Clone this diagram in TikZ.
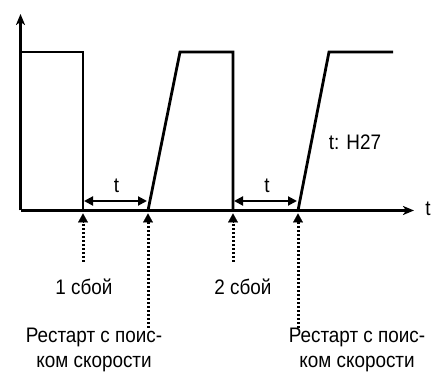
\documentclass[tikz,border=0pt]{standalone}
\usepackage{fontspec}
\setmainfont[FakeStretch=0.9]{Liberation Sans}
\usetikzlibrary{arrows.meta,calc}
\begin{document}
\begin{tikzpicture}[x=1pt,y=1pt,
  sig/.style={line width=2.8pt,line join=miter},
  axis/.style={line width=2.6pt,-{Stealth[length=11pt,width=9pt,inset=3pt]}},
  gap/.style={line width=2pt,{Triangle[length=9pt,width=9pt]}-{Triangle[length=9pt,width=9pt]}},
  dotmark/.style={line width=3pt,dash pattern=on 2.2pt off 1.8pt},
  upar/.style={-{Triangle[length=9pt,width=10pt]}},
  lbl/.style={font=\fontsize{21}{25}\selectfont,inner sep=0pt}]
\useasboundingbox (0,0) rectangle (437,387);
% y = 387 - ypx
\coordinate (O) at (20.5,176.5);
\coordinate (Ytop) at (20.5,373);
\coordinate (Xend) at (414,176.5);
\draw[axis] (O) -- (Ytop);
\draw[axis] (O) -- (Xend);
% signal
\coordinate (s0) at (20.5,335);
\coordinate (f1t) at (83,335);
\coordinate (f1b) at (83,176.5);
\coordinate (r1b) at (148,176.5);
\coordinate (r1t) at (180,335);
\coordinate (f2t) at (233,335);
\coordinate (f2b) at (233,176.5);
\coordinate (r2b) at (298,176.5);
\coordinate (r2t) at (329,335);
\coordinate (e) at (393,335);
\draw[sig] (s0) -- (f1t) -- (f1b);
\draw[sig] (r1b) -- (r1t) -- (f2t) -- (f2b);
\draw[sig] (r2b) -- (r2t) -- (e);
% t gaps
\draw[gap] (84,186) -- (147,186);
\draw[gap] (234,186) -- (297,186);
\node[lbl] (t1) at (116.5,201) {t};
\node[lbl] (t2) at (267,201) {t};
\node[lbl] (tx) at (428,178) {t};
\node[lbl] (h27) at (355,245) {t: H27};
% markers
\coordinate (m1) at (83,125);
\coordinate (m2) at (148,59);
\coordinate (m3) at (233,125);
\coordinate (m4) at (298,59);
\foreach \a/\b in {m1/f1b,m2/r1b,m3/f2b,m4/r2b}{
  \draw[dotmark] (\a) -- ($(\b)+(0,-12)$);
  \draw[upar,line width=0.1pt] ($(\b)+(0,-12)$) -- ($(\b)+(0,-3)$);
}
\node[lbl] (c1) at (84,100) {1 сбой};
\node[lbl] (c2) at (243,100) {2 сбой};
\node[lbl,align=center] (r1) at (94,37) {Рестарт с поис-\\ком скорости};
\node[lbl,align=center] (r2) at (357,37) {Рестарт с поис-\\ком скорости};
\end{tikzpicture}
\end{document}
